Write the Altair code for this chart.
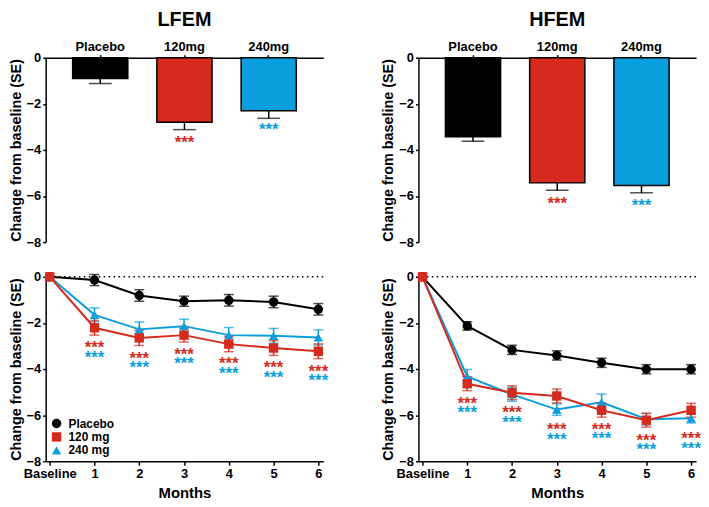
import altair as alt
import pandas as pd

FONT = "Liberation Sans"
BLACK = "#000000"
RED = "#D52B1E"
BLUE = "#0A9FDC"

# ---- bar data (top row) ----
bar_groups = ["Placebo", "120mg", "240mg"]
bar_colors = [BLACK, RED, BLUE]
lfem_bar = [-0.90, -2.80, -2.30]
lfem_bar_se = [0.22, 0.32, 0.33]
lfem_bar_star = [None, -3.57, -3.00]
hfem_bar = [-3.43, -5.43, -5.54]
hfem_bar_se = [0.19, 0.32, 0.32]
hfem_bar_star = [None, -6.20, -6.30]

# ---- line data (bottom row) ----
months = [0, 1, 2, 3, 4, 5, 6]
series = ["Placebo", "120 mg", "240 mg"]
series_colors = [BLACK, RED, BLUE]
series_shapes = ["circle", "square", "triangle-up"]

lfem_placebo = [0, -0.14, -0.81, -1.06, -1.02, -1.09, -1.41]
lfem_placebo_se = [0, 0.24, 0.25, 0.22, 0.25, 0.25, 0.25]
lfem_120 = [0, -2.21, -2.65, -2.53, -2.92, -3.09, -3.23]
lfem_120_se = [0, 0.32, 0.33, 0.30, 0.33, 0.32, 0.32]
lfem_240 = [0, -1.65, -2.28, -2.14, -2.53, -2.56, -2.63]
lfem_240_se = [0, 0.30, 0.32, 0.30, 0.33, 0.32, 0.33]
lfem_star_120 = [-2.97, -3.42, -3.25, -3.67, -3.85, -3.99]
lfem_star_240 = [-3.39, -3.84, -3.67, -4.09, -4.27, -4.41]

hfem_placebo = [0, -2.13, -3.17, -3.41, -3.73, -4.01, -4.01]
hfem_placebo_se = [0, 0.18, 0.20, 0.20, 0.20, 0.20, 0.20]
hfem_120 = [0, -4.64, -5.03, -5.17, -5.79, -6.22, -5.79]
hfem_120_se = [0, 0.30, 0.30, 0.30, 0.30, 0.30, 0.30]
hfem_240 = [0, -4.32, -5.10, -5.76, -5.44, -6.18, -6.14]
hfem_240_se = [0, 0.30, 0.30, 0.25, 0.35, 0.25, 0.20]
hfem_star_120 = [-5.37, -5.79, -6.52, -6.50, -7.00, -6.92]
hfem_star_240 = [-5.79, -6.21, -6.95, -6.90, -7.40, -7.34]

W = 280
H = 186
Y_TITLE = "Change from baseline (SE)"
STAR_SIZE = 17

y_scale = alt.Scale(domain=[-8, 0], nice=False, zero=False)
y_axis = alt.Axis(values=[-8, -6, -4, -2, 0], title=Y_TITLE)


def bar_panel(title, vals, ses, stars):
    df = pd.DataFrame({
        "group": bar_groups,
        "value": vals,
        "low": [v - s for v, s in zip(vals, ses)],
        "star": stars,
    })
    base = alt.Chart(df)
    x = alt.X("group:N", sort=bar_groups,
              scale=alt.Scale(paddingInner=0.345, paddingOuter=0.32),
              axis=alt.Axis(orient="top", title=None, labelAngle=0,
                            labelPadding=1, tickSize=3))
    col = alt.Color("group:N", scale=alt.Scale(domain=bar_groups, range=bar_colors), legend=None)
    err = base.mark_rule(color="black", strokeWidth=1.5).encode(
        x=x, y=alt.Y("value:Q", scale=y_scale, axis=y_axis), y2="low:Q")
    cap = base.mark_tick(color="black", thickness=1.5, size=23, orient="horizontal").encode(
        x=x, y=alt.Y("low:Q"))
    bars = base.mark_bar(stroke="black", strokeWidth=1.5).encode(
        x=x, y=alt.Y("value:Q", scale=y_scale, axis=y_axis), color=col)
    st = base.transform_filter("datum.star != null").mark_text(
        text="***", font=FONT, fontWeight="bold", fontSize=STAR_SIZE, baseline="middle", dy=3
    ).encode(x=x, y="star:Q", color=col)
    return alt.layer(err, cap, bars, st).properties(
        width=W, height=H,
        title=alt.TitleParams(title, fontSize=20, font=FONT, fontWeight="bold",
                              offset=11, frame="group", anchor="middle", color="black"))


def line_panel(vals, ses, s120, s240, show_legend):
    rows = []
    for name, v, s in zip(series, vals, ses):
        for m, vv, ss in zip(months, v, s):
            rows.append({"month": m, "value": vv, "se": ss, "group": name,
                         "lo": vv - ss, "hi": vv + ss})
    df = pd.DataFrame(rows)
    order_map = {"Placebo": 0, "240 mg": 1, "120 mg": 2}
    df["draw"] = df["group"].map(order_map)
    df = df.sort_values(["draw", "month"])
    stars = pd.DataFrame({
        "month": months[1:] * 2,
        "y": s120 + s240,
        "group": ["120 mg"] * 6 + ["240 mg"] * 6,
    })
    x = alt.X("month:Q",
              scale=alt.Scale(domain=[-0.09, 6.11], nice=False, zero=False),
              axis=alt.Axis(values=months, title="Months", tickSize=4, labelPadding=2,
                            labelExpr="datum.value == 0 ? 'Baseline' : datum.value",
                            titlePadding=6, titleFontSize=15, labelFlush=False))
    y = alt.Y("value:Q", scale=y_scale, axis=y_axis)
    if show_legend:
        leg = alt.Legend(orient="none", legendX=5, legendY=H - 44, title=None,
                         labelFont=FONT, labelFontWeight="bold", labelFontSize=12,
                         labelColor="black", symbolSize=90, rowPadding=1.5,
                         labelOffset=6, padding=0, symbolStrokeWidth=0)
    else:
        leg = None
    col_pt = alt.Color("group:N", scale=alt.Scale(domain=series, range=series_colors), legend=leg)
    shp = alt.Shape("group:N", scale=alt.Scale(domain=series, range=series_shapes), legend=leg)

    layers = []
    zero = alt.Chart(pd.DataFrame({"z": [0]})).mark_rule(
        color="black", strokeWidth=1.5, strokeDash=[1.5, 3.5]).encode(y=alt.Y("z:Q", scale=y_scale))
    layers.append(zero)
    color_of = dict(zip(series, series_colors))
    base = alt.Chart(df)
    for name in ["Placebo", "240 mg", "120 mg"]:
        c = color_of[name]
        sub = base.transform_filter(alt.datum.group == name)
        layers.append(sub.mark_line(strokeWidth=2, color=c).encode(x=x, y=y, order="month:Q"))
        eb = sub.transform_filter("datum.se > 0")
        layers.append(eb.mark_rule(strokeWidth=1.5, color=c).encode(x=x, y=alt.Y("lo:Q"), y2="hi:Q"))
        layers.append(eb.mark_tick(thickness=1.5, size=10, orient="horizontal", color=c).encode(
            x=x, y=alt.Y("lo:Q")))
        layers.append(eb.mark_tick(thickness=1.5, size=10, orient="horizontal", color=c).encode(
            x=x, y=alt.Y("hi:Q")))
    layers.append(base.mark_point(filled=True, size=90, opacity=1).encode(
        x=x, y=y, color=col_pt, shape=shp))
    sbase = alt.Chart(stars)
    for name in ["120 mg", "240 mg"]:
        layers.append(sbase.transform_filter(alt.datum.group == name).mark_text(
            text="***", font=FONT, fontWeight="bold", fontSize=STAR_SIZE, baseline="middle", dy=3,
            color=color_of[name]
        ).encode(x=alt.X("month:Q"), y=alt.Y("y:Q")))
    return alt.layer(*layers).properties(width=W, height=H)


tl = bar_panel("LFEM", lfem_bar, lfem_bar_se, lfem_bar_star)
tr = bar_panel("HFEM", hfem_bar, hfem_bar_se, hfem_bar_star)
bl = line_panel([lfem_placebo, lfem_120, lfem_240],
                [lfem_placebo_se, lfem_120_se, lfem_240_se],
                lfem_star_120, lfem_star_240, True)
br = line_panel([hfem_placebo, hfem_120, hfem_240],
                [hfem_placebo_se, hfem_120_se, hfem_240_se],
                hfem_star_120, hfem_star_240, False)

chart = alt.concat(tl, tr, bl, br, columns=2, spacing={"row": 22, "column": 53}).resolve_scale(
    color="independent", shape="independent", x="independent", y="independent"
).resolve_legend(color="independent", shape="independent").properties(
    padding={"left": 0, "top": 0, "right": 0, "bottom": 0},
    background="white"
).configure_view(stroke=None).configure_axis(
    grid=False, domainColor="black", domainWidth=1.5, tickColor="black", tickWidth=1.5,
    labelFont=FONT, labelFontWeight="bold", labelFontSize=13, labelColor="black",
    titleFont=FONT, titleFontWeight="bold", titleFontSize=14.5, titleColor="black",
    labelPadding=2, titlePadding=3
).configure_axisY(tickSize=3)

chart.save("out.html", embed_options={"renderer": "svg", "actions": False})
